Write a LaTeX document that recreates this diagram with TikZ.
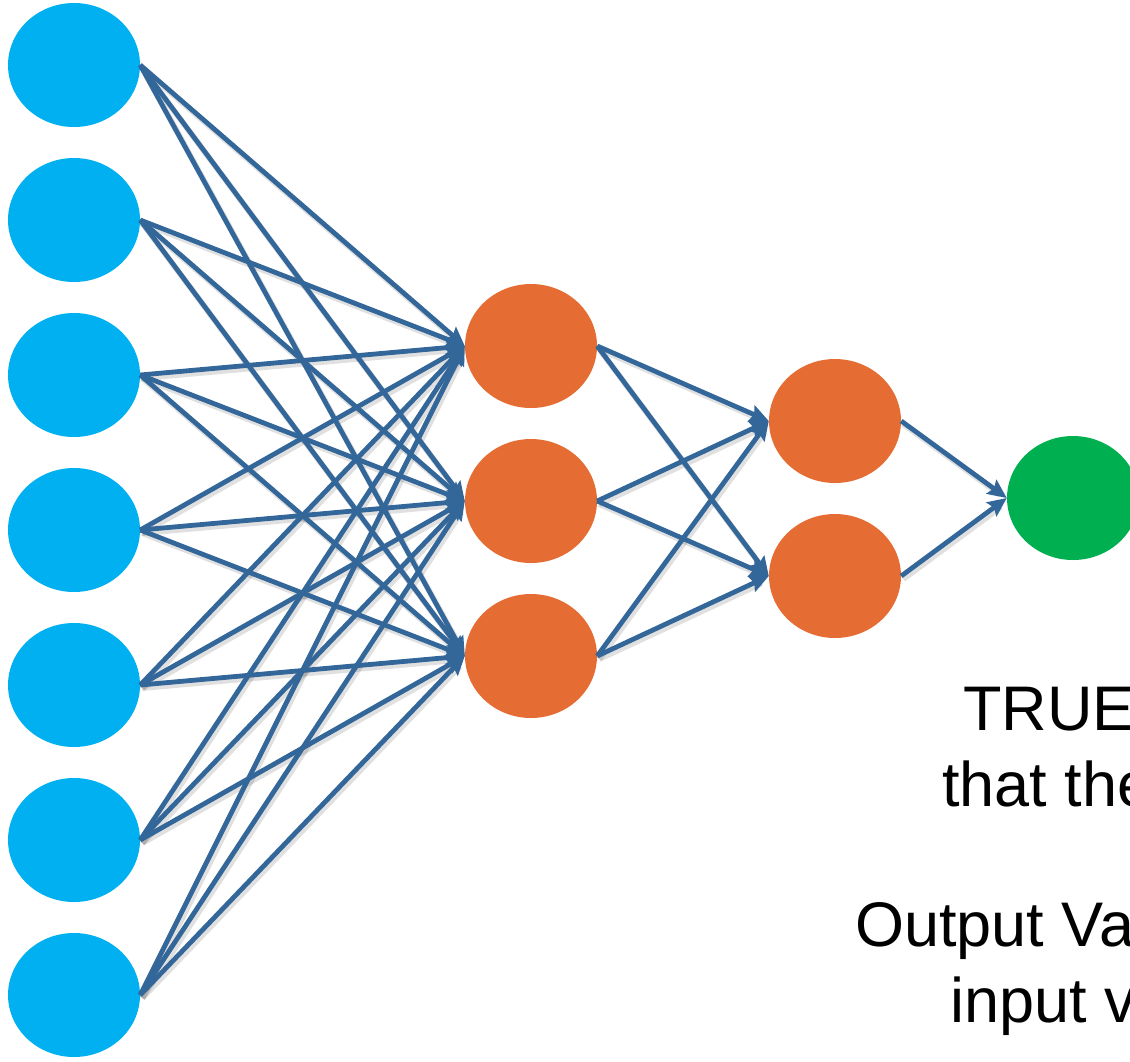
\documentclass[tikz,border=0pt]{standalone}
\usepackage{fontspec}
\setmainfont{Liberation Sans}
\usetikzlibrary{shapes.geometric,arrows.meta}
\definecolor{inblue}{HTML}{00B0F0}
\definecolor{hidorange}{HTML}{E56D33}
\definecolor{outgreen}{HTML}{00B050}
\definecolor{wire}{HTML}{336699}
\tikzset{
  neuron/.style={ellipse, minimum width=132pt, minimum height=124pt, inner sep=0pt, draw=none},
  inputn/.style={neuron, fill=inblue},
  hiddenn/.style={neuron, fill=hidorange},
  outputn/.style={neuron, fill=outgreen},
  wirearrow/.style={draw=wire, line width=4.8pt, -{Stealth[length=19pt,width=17pt,inset=3pt]}},
  wireshadow/.style={draw=black, opacity=0.12, line width=6pt, shorten >=10pt, transform canvas={shift={(2pt,-3pt)}}},
  caption/.style={anchor=base west, inner sep=0pt, font=\fontsize{63}{76}\selectfont}
}
\begin{document}
\begin{tikzpicture}[x=1pt, y=-1pt]
\useasboundingbox (0,0) rectangle (1130,1061);
\clip (0,0) rectangle (1130,1061);
% input layer
\foreach \i/\y in {1/65,2/220,3/375,4/530,5/685,6/840,7/995}
  \node[inputn] (in\i) at (74,\y) {};
% first hidden layer
\foreach \j/\y in {1/346,2/501,3/656}
  \node[hiddenn] (ha\j) at (531,\y) {};
% second hidden layer
\foreach \k/\y in {1/421,2/576}
  \node[hiddenn] (hb\k) at (835,\y) {};
% output neuron
\node[outputn] (out) at (1073,498) {};
% soft drop shadows of the weights
\foreach \i in {1,...,7}
  \foreach \j in {1,2,3}
    \draw[wireshadow] (in\i.east) -- (ha\j.west);
\foreach \j in {1,2,3}
  \foreach \k in {1,2}
    \draw[wireshadow] (ha\j.east) -- (hb\k.west);
\foreach \k in {1,2}
  \draw[wireshadow] (hb\k.east) -- (out.west);
% weights
\foreach \i in {1,...,7}
  \foreach \j in {1,2,3}
    \draw[wirearrow] (in\i.east) -- (ha\j.west);
\foreach \j in {1,2,3}
  \foreach \k in {1,2}
    \draw[wirearrow] (ha\j.east) -- (hb\k.west);
\foreach \k in {1,2}
  \draw[wirearrow] (hb\k.east) -- (out.west);
% caption
\node[caption] (t1) at (963,730) {TRUE};
\node[caption] (t2) at (942,806) {that the};
\node[caption] (t3) at (855,946) {Output Va};
\node[caption] (t4) at (950,1022) {input v};
\end{tikzpicture}
\end{document}
